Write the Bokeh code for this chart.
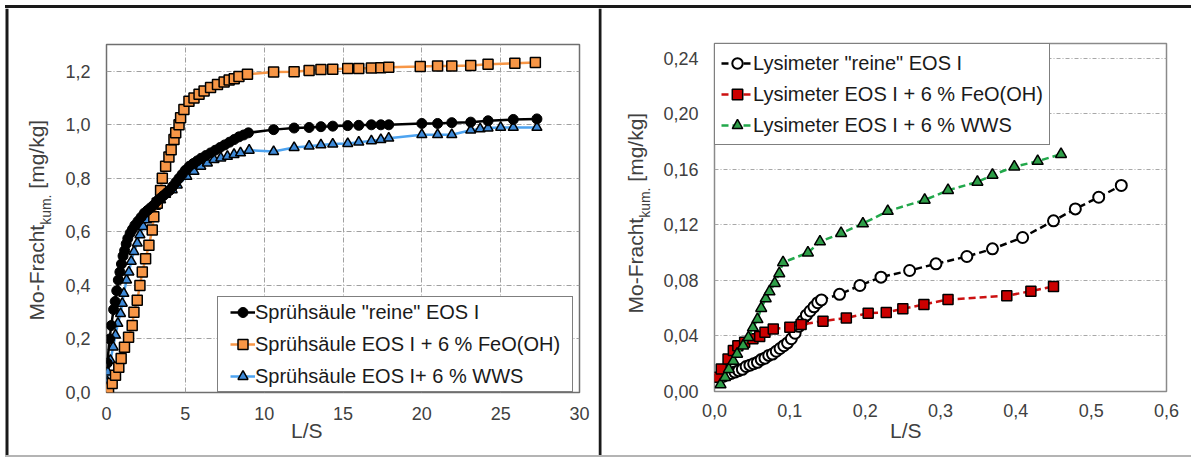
import math
from bokeh.plotting import figure
from bokeh.models import Legend, LegendItem, FixedTicker, Range1d, LinearAxis, Spacer
from bokeh.layouts import row, column
from bokeh.core.properties import value
from bokeh.embed import file_html
from bokeh.resources import INLINE

FONT = "Liberation Sans"

# ---------------- left chart data (Sprühsäule) ----------------
ls_rein = [0.05, 0.2, 0.3, 0.45, 0.55, 0.65, 0.75, 0.85, 0.95, 1.05, 1.15, 1.25, 1.35, 1.5, 1.65,
           1.8, 2.0, 2.2, 2.4, 2.6, 2.8, 3.0, 3.2, 3.4, 3.6, 3.8, 4.0, 4.2, 4.4, 4.6, 4.8, 5.0,
           5.25, 5.5, 5.75, 6.0, 6.3, 6.6, 6.9, 7.2, 7.5, 7.8, 8.1, 8.4, 8.7, 9.0,
           10.6, 11.9, 12.85, 13.6, 14.35, 15.3, 16.0, 16.8, 17.4, 17.9, 20.0, 21.0, 21.9,
           23.1, 24.2, 25.8, 27.3]
mo_rein = [0.11, 0.20, 0.25, 0.31, 0.34, 0.38, 0.42, 0.45, 0.48, 0.51, 0.53, 0.555, 0.575, 0.595, 0.61,
           0.625, 0.64, 0.655, 0.67, 0.68, 0.69, 0.70, 0.715, 0.725, 0.735, 0.745, 0.755, 0.77, 0.785,
           0.80, 0.815, 0.83, 0.845, 0.855, 0.865, 0.875, 0.885, 0.895, 0.905, 0.915, 0.925, 0.935,
           0.945, 0.955, 0.962, 0.97,
           0.982, 0.988, 0.99, 0.993, 0.995, 0.997, 0.998, 1.0, 1.0, 1.0, 1.005, 1.005, 1.008,
           1.01, 1.015, 1.02, 1.022]

ls_feo = [0.04, 0.13, 0.36, 0.57, 0.78, 0.93, 1.14, 1.4, 1.63, 1.74, 1.95, 2.12, 2.27, 2.48, 2.69,
          2.9, 3.0, 3.22, 3.43, 3.54, 3.75, 3.96, 4.1, 4.28, 4.39, 4.6, 4.7, 4.91, 5.23, 5.55, 5.87,
          6.19, 6.6, 7.04, 7.46, 7.78, 8.1, 8.4, 8.94, 10.6, 11.9, 12.85, 13.6, 14.35, 15.3, 16.0,
          16.8, 17.4, 17.9, 19.9, 21.0, 21.9, 23.1, 24.2, 25.9, 27.2]
mo_feo = [0.02, 0.015, 0.034, 0.064, 0.094, 0.127, 0.169, 0.206, 0.25, 0.30, 0.345, 0.40, 0.45, 0.50,
          0.55, 0.607, 0.657, 0.707, 0.755, 0.80, 0.845, 0.88, 0.907, 0.945, 0.97, 1.0, 1.026, 1.057,
          1.088, 1.10, 1.114, 1.126, 1.139, 1.151, 1.16, 1.167, 1.172, 1.18, 1.189, 1.197, 1.198,
          1.203, 1.207, 1.208, 1.21, 1.21, 1.212, 1.213, 1.215, 1.218, 1.22, 1.22, 1.222, 1.226,
          1.23, 1.233]

ls_wws = [0.05, 0.08, 0.25, 0.42, 0.57, 0.72, 0.89, 1.0, 1.1, 1.27, 1.42, 1.57, 1.74, 1.95, 2.12,
          2.33, 2.58, 2.8, 3.1, 3.43, 3.75, 4.17, 4.49, 5.1, 5.55, 5.98, 6.4, 6.82, 7.25, 7.67, 8.09,
          8.5, 9.05, 10.6, 11.9, 12.85, 13.6, 14.35, 15.3, 16.0, 16.8, 17.4, 17.9, 20.0, 21.0, 21.9,
          23.1, 23.7, 24.2, 25.0, 25.8, 27.3]
mo_wws = [0.04, 0.076, 0.12, 0.17, 0.214, 0.258, 0.295, 0.333, 0.37, 0.42, 0.45, 0.49, 0.526, 0.558,
          0.589, 0.62, 0.645, 0.67, 0.695, 0.72, 0.74, 0.757, 0.775, 0.807, 0.826, 0.845, 0.857, 0.87,
          0.876, 0.882, 0.889, 0.895, 0.905, 0.90, 0.915, 0.92, 0.925, 0.928, 0.93, 0.935, 0.94,
          0.945, 0.95, 0.963, 0.963, 0.963, 0.98, 0.985, 0.988, 0.99, 0.99, 0.99]

left_x_ticks = [0, 5, 10, 15, 20, 25, 30]
left_x_labels = ["0", "5", "10", "15", "20", "25", "30"]
left_y_ticks = [0.0, 0.2, 0.4, 0.6, 0.8, 1.0, 1.2]
left_y_labels = ["0,0", "0,2", "0,4", "0,6", "0,8", "1,0", "1,2"]
left_names = ['Sprühsäule "reine" EOS I', "Sprühsäule EOS I + 6 % FeO(OH)", "Sprühsäule EOS I+ 6 % WWS"]
left_xtitle_at = 12.7      # L/S title sits left of the axis centre, as in the original

# ---------------- right chart data (Lysimeter) ----------------
ls_lys_rein = [0.007, 0.012, 0.017, 0.022, 0.027, 0.032, 0.037, 0.042, 0.047, 0.052, 0.057, 0.062,
               0.067, 0.072, 0.077, 0.082, 0.087, 0.092, 0.097, 0.102, 0.107, 0.112, 0.117, 0.122,
               0.127, 0.132, 0.137, 0.142, 0.166, 0.193, 0.221, 0.259, 0.294, 0.335, 0.369, 0.409,
               0.45, 0.479, 0.51, 0.54]
mo_lys_rein = [0.010, 0.011, 0.012, 0.013, 0.014, 0.015, 0.016, 0.018, 0.019, 0.020, 0.021, 0.023,
               0.024, 0.026, 0.027, 0.029, 0.031, 0.033, 0.035, 0.038, 0.042, 0.047, 0.051, 0.055,
               0.058, 0.061, 0.064, 0.066, 0.070, 0.0764, 0.0824, 0.0872, 0.092, 0.0973, 0.1028,
               0.111, 0.123, 0.1316, 0.140, 0.1485]

ls_lys_feo = [0.005, 0.009, 0.018, 0.025, 0.031, 0.04, 0.051, 0.06, 0.067, 0.078, 0.1, 0.115, 0.144,
              0.175, 0.204, 0.228, 0.25, 0.278, 0.31, 0.388, 0.42, 0.45]
mo_lys_feo = [0.0103, 0.0163, 0.0235, 0.0295, 0.033, 0.0355, 0.038, 0.0396, 0.0427, 0.045, 0.0463,
              0.0483, 0.0507, 0.053, 0.0564, 0.057, 0.0596, 0.0627, 0.0663, 0.069, 0.0723, 0.0757]

ls_lys_wws = [0.008, 0.014, 0.019, 0.025, 0.03, 0.038, 0.045, 0.051, 0.057, 0.062, 0.068, 0.073, 0.08,
              0.086, 0.091, 0.124, 0.14, 0.168, 0.197, 0.23, 0.279, 0.31, 0.349, 0.369, 0.398, 0.429,
              0.46]
mo_lys_wws = [0.005, 0.0103, 0.016, 0.022, 0.027, 0.033, 0.039, 0.046, 0.052, 0.06, 0.067, 0.072,
              0.078, 0.085, 0.093, 0.100, 0.108, 0.114, 0.121, 0.130, 0.138, 0.145, 0.151, 0.156,
              0.162, 0.166, 0.171]

right_x_ticks = [0.0, 0.1, 0.2, 0.3, 0.4, 0.5, 0.6]
right_x_labels = ["0,0", "0,1", "0,2", "0,3", "0,4", "0,5", "0,6"]
right_y_ticks = [0.0, 0.04, 0.08, 0.12, 0.16, 0.20, 0.24]
right_y_labels = ["0,00", "0,04", "0,08", "0,12", "0,16", "0,20", "0,24"]
right_names = ['Lysimeter "reine" EOS I', "Lysimeter EOS I + 6 % FeO(OH)", "Lysimeter EOS I + 6 % WWS"]
right_xtitle_at = 0.254

ylabel_main = "Mo-Fracht"
ylabel_sub = "kum."
ylabel_unit = "[mg/kg]"
xlabel = "L/S"

TXT = "#404040"
BORDER = "#1a1a1a"

TOP_H = 8        # page y 0..8 (5 px white + 3 px border line)
MID_H = 447      # page y 8..455
# page y 455..459: 2 px grey line + 2 px white


def no_align(p):
    try:
        p.frame_align = False
    except Exception:
        pass


def make_aux(width, height):
    a = figure(width=width, height=height, output_backend="svg", toolbar_location=None, tools="",
               x_range=Range1d(0, width), y_range=Range1d(0, height), title=None,
               x_axis_location=None, y_axis_location=None,
               min_border_left=0, min_border_right=0, min_border_top=0, min_border_bottom=0)
    a.outline_line_color = None
    a.background_fill_color = "white"
    a.border_fill_color = "white"
    a.grid.visible = False
    no_align(a)
    return a


def make_bar(width, height, color):
    s = Spacer(width=width, height=height)
    try:
        s.styles = {"background-color": color}
    except Exception:
        pass
    return s


def style_axis(ax, size, standoff):
    ax.axis_line_color = None
    ax.major_tick_line_color = None
    ax.minor_tick_line_color = None
    ax.major_tick_out = 0
    ax.major_tick_in = 0
    ax.minor_tick_out = 0
    ax.minor_tick_in = 0
    ax.major_label_text_font = FONT
    ax.major_label_text_font_size = size
    ax.major_label_text_color = TXT
    ax.major_label_standoff = standoff


def make_fig(width, x_end, y_end, lb, rb, tb, bb, xstand):
    p = figure(width=width, height=MID_H, output_backend="svg", toolbar_location=None, tools="",
               x_range=Range1d(0, x_end), y_range=Range1d(0, y_end), title=None,
               min_border_left=lb, min_border_right=rb, min_border_top=tb, min_border_bottom=bb)
    no_align(p)
    p.background_fill_color = "white"
    p.border_fill_color = "white"
    style_axis(p.xaxis[0], "18px", xstand)
    style_axis(p.yaxis[0], "18px", 16)
    return p


def add_xtitle(p, at, standoff):
    ax = LinearAxis(ticker=FixedTicker(ticks=[at]), major_label_overrides={at: xlabel})
    style_axis(ax, "21px", standoff)
    p.add_layout(ax, "below")


def add_ylabel(a, xm, xs, y0_page):
    w_main = 4556 * 0.021
    w_sub = 2167 * 0.014
    w_sp = 278 * 0.021
    to_y = lambda py: MID_H - (py - TOP_H)
    common = dict(angle=math.pi / 2, text_align="left", text_baseline="middle",
                  text_font=value(FONT), text_color=TXT)
    a.text(x=[xm], y=[to_y(y0_page)], text=[ylabel_main], text_font_size="21px", **common)
    a.text(x=[xs], y=[to_y(y0_page - w_main)], text=[ylabel_sub], text_font_size="14px", **common)
    a.text(x=[xm], y=[to_y(y0_page - w_main - w_sub - w_sp)], text=[ylabel_unit],
           text_font_size="21px", **common)


# ================= page strips =================
top_line = make_bar(1186, 3, BORDER)
bot_line = make_bar(1186, 2, "#b4b4b4")

la = make_aux(60, MID_H)
la.quad(left=[5], right=[8], bottom=[0], top=[MID_H], fill_color=BORDER, line_color=None)
add_ylabel(la, 36, 45, 320)

ra = make_aux(62, MID_H)
ra.quad(left=[0], right=[3], bottom=[0], top=[MID_H], fill_color=BORDER, line_color=None)
add_ylabel(ra, 37, 46, 313)

# ================= left chart =================
p1 = make_fig(538, 30, 1.3, 46, 19, 36, 455 - 392, 14)

p1.xaxis[0].ticker = FixedTicker(ticks=left_x_ticks)
p1.yaxis[0].ticker = FixedTicker(ticks=left_y_ticks)
p1.xaxis[0].major_label_overrides = dict(zip(left_x_ticks, left_x_labels))
p1.yaxis[0].major_label_overrides = dict(zip(left_y_ticks, left_y_labels))
for g in (p1.xgrid[0], p1.ygrid[0]):
    g.grid_line_color = "#a0a0a0"
    g.grid_line_dash = "5 2 1 2"
    g.grid_line_width = 1
p1.outline_line_color = "#6f6f6f"
p1.outline_line_width = 1.5
add_xtitle(p1, left_xtitle_at, -4)

lw1 = p1.line(ls_wws, mo_wws, line_color="#4DA3F0", line_width=2.5)
sw1 = p1.scatter(ls_wws, mo_wws, marker="triangle", size=10, fill_color="#3E8AD8",
                 line_color="black", line_width=1.5)
lf1 = p1.line(ls_feo, mo_feo, line_color="#F79646", line_width=2.5)
sf1 = p1.scatter(ls_feo, mo_feo, marker="square", size=10, fill_color="#F79646",
                 line_color="black", line_width=1.5)
lr1 = p1.line(ls_rein, mo_rein, line_color="black", line_width=2.5)
sr1 = p1.scatter(ls_rein, mo_rein, marker="circle", size=10, fill_color="black", line_color="black")

leg1 = Legend(items=[LegendItem(label=left_names[0], renderers=[lr1, sr1]),
                     LegendItem(label=left_names[1], renderers=[lf1, sf1]),
                     LegendItem(label=left_names[2], renderers=[lw1, sw1])],
              location=(111, 0))
leg1.label_text_font = FONT
leg1.label_text_font_size = "20px"
leg1.label_text_color = "#1a1a1a"
leg1.border_line_color = "black"
leg1.border_line_width = 1.5
leg1.background_fill_alpha = 1.0
leg1.glyph_width = 25
leg1.glyph_height = 26
leg1.label_height = 26
leg1.label_standoff = 0
leg1.spacing = 6
leg1.margin = 0
try:
    leg1.padding = (12, 2)
except Exception:
    leg1.padding = 2
p1.add_layout(leg1)

# ================= right chart =================
p2 = make_fig(531, 0.6, 0.2508, 53, 25, 35, 455 - 391, 12)

p2.xaxis[0].ticker = FixedTicker(ticks=right_x_ticks)
p2.yaxis[0].ticker = FixedTicker(ticks=right_y_ticks)
p2.xaxis[0].major_label_overrides = dict(zip(right_x_ticks, right_x_labels))
p2.yaxis[0].major_label_overrides = dict(zip(right_y_ticks, right_y_labels))
p2.xgrid[0].grid_line_color = None
p2.ygrid[0].grid_line_color = "#a8a8a8"
p2.ygrid[0].grid_line_dash = "4 2 1 2"
p2.outline_line_color = "#8a8a8a"
p2.outline_line_width = 1.5
add_xtitle(p2, right_xtitle_at, -1)

lr2 = p2.line(ls_lys_rein, mo_lys_rein, line_color="black", line_width=2.5, line_dash="7 4")
sr2 = p2.scatter(ls_lys_rein, mo_lys_rein, marker="circle", size=11, fill_color="white",
                 line_color="black", line_width=2)
lf2 = p2.line(ls_lys_feo, mo_lys_feo, line_color="#CC1111", line_width=2.5, line_dash="7 4")
sf2 = p2.scatter(ls_lys_feo, mo_lys_feo, marker="square", size=10, fill_color="#CC0000",
                 line_color="black", line_width=1.5)
lw2 = p2.line(ls_lys_wws, mo_lys_wws, line_color="#22A84B", line_width=2.5, line_dash="7 4")
sw2 = p2.scatter(ls_lys_wws, mo_lys_wws, marker="triangle", size=11, fill_color="#2E9E48",
                 line_color="black", line_width=1.5)

leg2 = Legend(items=[LegendItem(label=right_names[0], renderers=[lr2, sr2]),
                     LegendItem(label=right_names[1], renderers=[lf2, sf2]),
                     LegendItem(label=right_names[2], renderers=[lw2, sw2])],
              location="top_left")
leg2.label_text_font = FONT
leg2.label_text_font_size = "20px"
leg2.label_text_color = "#1a1a1a"
leg2.border_line_color = "black"
leg2.border_line_width = 1.5
leg2.background_fill_alpha = 1.0
leg2.glyph_width = 32
leg2.glyph_height = 26
leg2.label_height = 26
leg2.label_standoff = 0
leg2.spacing = 5
leg2.margin = 0
leg2.padding = 6
p2.add_layout(leg2)

layout = column(
    Spacer(width=1191, height=5),
    row(Spacer(width=5, height=3), top_line, spacing=0),
    row(la, p1, ra, p2, spacing=0),
    row(Spacer(width=5, height=2), bot_line, spacing=0),
    Spacer(width=1191, height=2),
    spacing=0,
)
open("out.html", "w").write(file_html(layout, INLINE))
